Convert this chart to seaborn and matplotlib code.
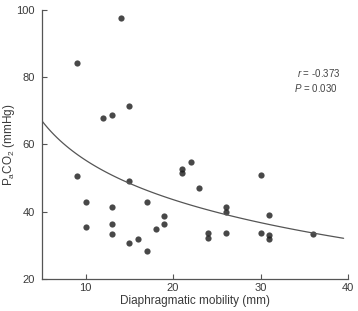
import numpy as np
import pandas as pd
import matplotlib
matplotlib.use("Agg")
import matplotlib.pyplot as plt
import seaborn as sns

# Diaphragmatic mobility (mm) vs PaCO2 (mmHg)
mobility = [9, 14, 12, 13, 15, 9, 10, 10, 13, 13, 13, 15, 15, 16, 17, 17, 18, 19, 19,
            21, 21, 22, 23, 24, 24, 26, 26, 26, 30, 30, 31, 31, 31, 36]
paco2 = [84.2, 97.5, 67.8, 68.7, 71.3, 50.7, 43.0, 35.5, 41.5, 36.4, 33.4, 49.0, 30.7, 32.0,
         43.0, 28.4, 35.0, 38.8, 36.4, 52.8, 51.6, 54.9, 47.2, 33.7, 32.2, 41.5, 40.0, 33.7,
         51.0, 33.7, 39.0, 33.0, 32.0, 33.5]
r_text = " = -0.373"
p_text = " = 0.030"

df = pd.DataFrame({"mobility": mobility, "paco2": paco2})

sns.set_style("ticks")
plt.rcParams["font.family"] = ["Liberation Sans", "DejaVu Sans"]
plt.rcParams["mathtext.fontset"] = "custom"
plt.rcParams["mathtext.rm"] = "Liberation Sans"
plt.rcParams["mathtext.it"] = "Liberation Sans:italic"

grey = "#555555"
txt = "#3a3a3a"
fig = plt.figure(figsize=(3.58, 3.11), dpi=100)
ax = fig.add_axes([0.117, 0.103, 0.855, 0.865])

# log fit line drawn from x=5 to about 39.5
ax.set_xlim(5, 39.5)
sns.regplot(data=df, x="mobility", y="paco2", logx=True, ci=None, truncate=False,
            scatter_kws={"s": 20, "color": "#1a1a1a", "linewidths": 0},
            line_kws={"color": "#555555", "lw": 0.9}, ax=ax)

ax.set_xlim(5, 40)
ax.set_ylim(20, 100)
ax.set_xticks([10, 20, 30, 40])
ax.set_yticks([20, 40, 60, 80, 100])
ax.set_xlabel("Diaphragmatic mobility (mm)", fontsize=8.5, color=txt)
ax.set_ylabel(r"P$_\mathregular{a}$CO$_\mathregular{2}$ (mmHg)", fontsize=8.5, color=txt)
ax.xaxis.set_label_coords(0.5, -0.058)
ax.yaxis.set_label_coords(-0.08, 0.5)
ax.tick_params(labelsize=8, colors=txt, direction="in", length=3.5, width=0.8, color=grey)
ax.tick_params(axis="x", pad=3)
ax.tick_params(axis="y", pad=5)
for s in ["left", "bottom"]:
    ax.spines[s].set_color(grey)
    ax.spines[s].set_linewidth(0.9)
sns.despine(ax=ax)

ax.text(0.974, 0.766, r"$\it{r}$" + r_text, transform=ax.transAxes, ha="right", va="center",
        fontsize=7, color="#444444")
ax.text(0.965, 0.71, r"$\it{P}$" + p_text, transform=ax.transAxes, ha="right", va="center",
        fontsize=7, color="#444444")

fig.savefig("out.png", dpi=100)
